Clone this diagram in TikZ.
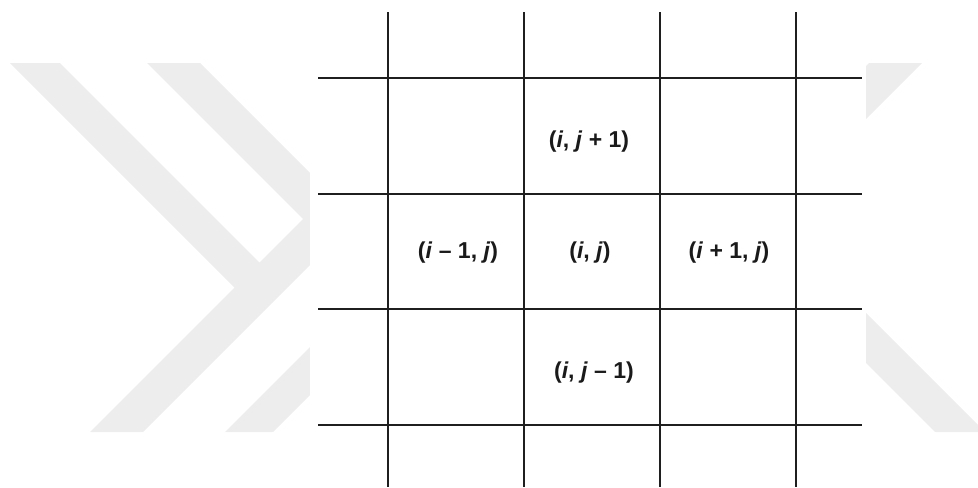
\documentclass[tikz,border=0pt]{standalone}
\usepackage{fontspec}
\setmainfont{Liberation Sans}
\usepackage{tikz}
\usetikzlibrary{positioning}
\definecolor{cGrid}{HTML}{1F1F1F}
\definecolor{cText}{HTML}{1A1A1A}
\definecolor{cMark}{HTML}{EDEDED}
\tikzset{
  gridln/.style = {draw=cGrid, line width=1pt},
  cell/.style   = {font=\fontsize{11.5}{13}\selectfont\bfseries, text=cText,
                   inner sep=0pt, align=center},
  wmark/.style  = {fill=cMark, draw=none},
  panel/.style  = {fill=white, draw=none},
}
\newcommand{\ci}{\textit{i}}
\newcommand{\cj}{\textit{j}}

\begin{document}
\begin{tikzpicture}[x=0.5pt, y=-0.5pt]
  \useasboundingbox (0,0) rectangle (978,487);
  \clip (0,0) rectangle (978,487);

  % faint watermark behind the grid
  \fill[wmark] (10,63) -- (60,63) -- (259.5,262.5) -- (322,200) -- (375,200)
               -- (143,432) -- (90,432) -- (234.5,287.5) -- cycle;
  \fill[wmark] (147,63) -- (200,63) -- (397,260) -- (457,200) -- (505,200)
               -- (273,432) -- (225,432) -- (370.5,286.5) -- cycle;
  \fill[wmark] (869,63) -- (922,63) -- (685,300) -- (632,300) -- cycle;
  \fill[wmark] (935,432) -- (985,432) -- (803,250) -- (753,250) -- cycle;
  \fill[panel] (310,0) rectangle (866,487);

  % grid
  \foreach \x in {388,524,660,796}
    \draw[gridln] (\x,12) -- (\x,487);
  \foreach \y in {78,194,309,425}
    \draw[gridln] (318,\y) -- (862,\y);

  % cell labels
  \node[cell] (top)  at (589,142) {(\ci, \cj\ + 1)};
  \node[cell] (west) at (458,253) {(\ci\ \textendash\ 1, \cj)};
  \node[cell] (mid)  at (590,253) {(\ci, \cj)};
  \node[cell] (east) at (729,253) {(\ci\ + 1, \cj)};
  \node[cell] (bot)  at (594,373) {(\ci, \cj\ \textendash\ 1)};
\end{tikzpicture}
\end{document}
